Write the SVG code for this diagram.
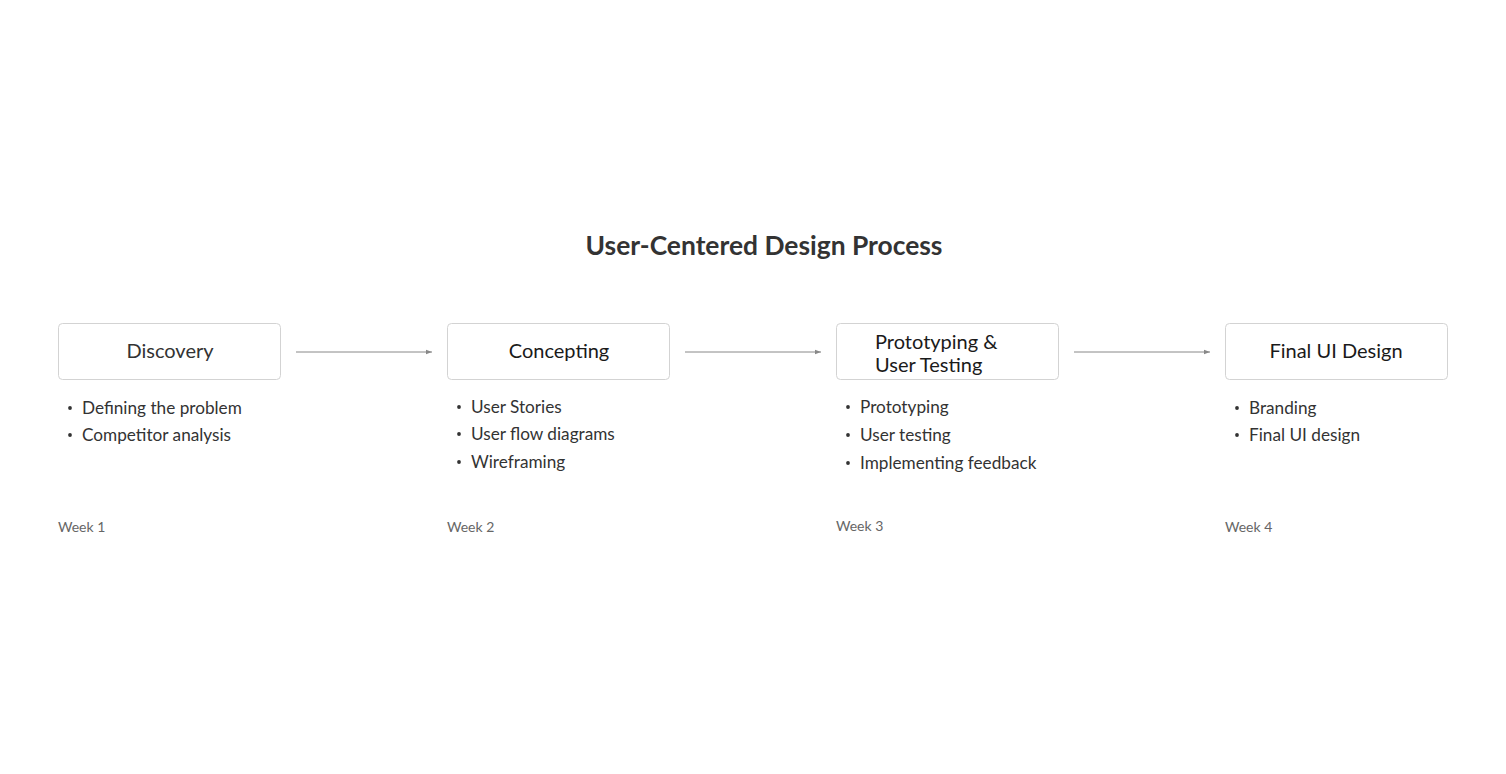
<svg xmlns="http://www.w3.org/2000/svg" width="1506" height="774" viewBox="0 0 1506 774">
<style>
.box{fill:#fff;stroke:#d3d3d3;stroke-width:1}
.head{font-family:Lato,"Noto Sans",sans-serif;font-size:20px;fill:#1a1a1a;text-anchor:middle}
.item{font-family:Lato,"Noto Sans",sans-serif;font-size:17.2px;fill:#333}
.dot{fill:#333}
.week{font-family:Lato,"Noto Sans",sans-serif;font-size:14px;fill:#666}
.title{font-family:Lato,"Noto Sans",sans-serif;font-size:26.4px;font-weight:bold;fill:#333;text-anchor:middle}
.conn{stroke:#888;stroke-width:1;fill:none;marker-end:url(#arr)}
</style>
<defs>
<marker id="arr" viewBox="0 0 6 6" refX="6" refY="3" markerWidth="6" markerHeight="6" markerUnits="userSpaceOnUse" orient="auto">
<path d="M0,0.8 L6,3 L0,5.2 Z" fill="#888"/>
</marker>
</defs>
<rect width="1506" height="774" fill="#fff"/>
<text class="title" x="764" y="255">User-Centered Design Process</text>
<g id="connectors">
<line class="conn" x1="296" y1="352" x2="432" y2="352"/>
<line class="conn" x1="685" y1="352" x2="821" y2="352"/>
<line class="conn" x1="1074" y1="352" x2="1210" y2="352"/>
</g>
<g id="discovery">
<rect class="box" x="58.5" y="323.5" width="222" height="56" rx="4"/>
<text class="head" x="170" y="358" style="fill:#333">Discovery</text>
<circle class="dot" cx="70" cy="408" r="1.9"/><text class="item" x="82" y="414">Defining the problem</text>
<circle class="dot" cx="70" cy="435" r="1.9"/><text class="item" x="82" y="441">Competitor analysis</text>
<text class="week" x="58" y="532">Week 1</text>
</g>
<g id="concepting">
<rect class="box" x="447.5" y="323.5" width="222" height="56" rx="4"/>
<text class="head" x="559" y="358">Concepting</text>
<circle class="dot" cx="459" cy="407" r="1.9"/><text class="item" x="471" y="413">User Stories</text>
<circle class="dot" cx="459" cy="434" r="1.9"/><text class="item" x="471" y="440">User flow diagrams</text>
<circle class="dot" cx="459" cy="462" r="1.9"/><text class="item" x="471" y="468">Wireframing</text>
<text class="week" x="447" y="532">Week 2</text>
</g>
<g id="prototyping">
<rect class="box" x="836.5" y="323.5" width="222" height="56" rx="4"/>
<text class="head" x="875" y="349" style="text-anchor:start">Prototyping &amp;</text>
<text class="head" x="875" y="372" style="text-anchor:start">User Testing</text>
<circle class="dot" cx="848" cy="407" r="1.9"/><text class="item" x="860" y="413">Prototyping</text>
<circle class="dot" cx="848" cy="435" r="1.9"/><text class="item" x="860" y="441">User testing</text>
<circle class="dot" cx="848" cy="463" r="1.9"/><text class="item" x="860" y="469">Implementing feedback</text>
<text class="week" x="836" y="531">Week 3</text>
</g>
<g id="final">
<rect class="box" x="1225.5" y="323.5" width="222" height="56" rx="4"/>
<text class="head" x="1336" y="358">Final UI Design</text>
<circle class="dot" cx="1237" cy="408" r="1.9"/><text class="item" x="1249" y="414">Branding</text>
<circle class="dot" cx="1237" cy="435" r="1.9"/><text class="item" x="1249" y="441">Final UI design</text>
<text class="week" x="1225" y="532">Week 4</text>
</g>
</svg>
